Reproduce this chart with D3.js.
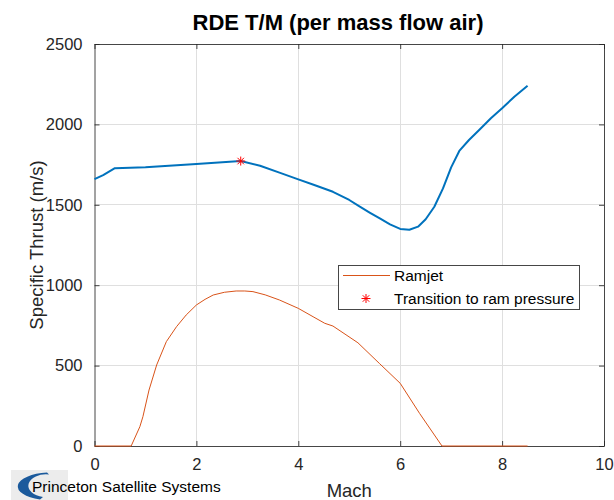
<!DOCTYPE html>
<html>
<head>
<meta charset="utf-8">
<script src="https://cdn.jsdelivr.net/npm/d3@7"></script>
<style>
  html, body { margin: 0; padding: 0; background: #fff; }
  svg { display: block; font-family: "Liberation Sans", Arial, sans-serif; }
</style>
</head>
<body>
<svg id="chart" width="614" height="500"></svg>
<script>
// ---- data ----
const rdeMach   = [0, 0.17, 0.4, 1.0, 2.0, 2.87, 3.25, 3.63, 4.0, 4.3, 4.68, 5.0, 5.2, 5.4, 5.6, 5.8, 6.0, 6.18, 6.35, 6.5, 6.67, 6.84, 7.0, 7.16, 7.35, 7.55, 7.78, 8.0, 8.24, 8.5];
const rdeThrust = [1660, 1685, 1728, 1733, 1753, 1772, 1743, 1700, 1658, 1625, 1581, 1530, 1490, 1452, 1415, 1378, 1350, 1345, 1364, 1410, 1488, 1602, 1733, 1835, 1903, 1965, 2038, 2100, 2172, 2240];
const ramMach   = [0, 0.72, 0.89, 0.95, 1.07, 1.22, 1.41, 1.61, 1.8, 2.0, 2.17, 2.33, 2.55, 2.78, 2.95, 3.11, 3.35, 3.63, 4.0, 4.29, 4.52, 4.68, 5.17, 5.59, 6.0, 6.38, 6.82, 8.5];
const ramThrust = [0, 0, 120, 182, 348, 504, 649, 742, 815, 877, 912, 939, 956, 964, 964, 960, 940, 908, 856, 804, 763, 746, 642, 514, 390, 203, 0, 0];
const transitionMach = [2.87];
const transitionThrust = [1772];
const xTicks = [0, 2, 4, 6, 8, 10];
const yTicks = [0, 500, 1000, 1500, 2000, 2500];
const legendLabels = ["Ramjet", "Transition to ram pressure"];
const titleText = "RDE T/M (per mass flow air)";
const xLabelText = "Mach";
const yLabelText = "Specific Thrust (m/s)";
const logoText = "Princeton Satellite Systems";

// ---- layout ----
const L = 94.5, R = 604, T = 44, B = 446;
const svg = d3.select("#chart");
const x = d3.scaleLinear().domain([0, 10]).range([L, R]);
const y = d3.scaleLinear().domain([0, 2500]).range([B, T]);
const axisColor = "#262626";
const tickFont = "16.5px";

// grid
const grid = svg.append("g");
grid.selectAll("line.gx").data(xTicks.slice(1, -1)).enter().append("line")
  .attr("x1", d => x(d)).attr("x2", d => x(d)).attr("y1", T).attr("y2", B)
  .attr("stroke", "#dfdfdf").attr("stroke-width", 1).attr("shape-rendering", "crispEdges");
grid.selectAll("line.gy").data(yTicks.slice(1, -1)).enter().append("line")
  .attr("y1", d => y(d)).attr("y2", d => y(d)).attr("x1", L).attr("x2", R)
  .attr("stroke", "#dfdfdf").attr("stroke-width", 1).attr("shape-rendering", "crispEdges");

// axes (box with inward ticks on all sides)
function styleAxis(g) {
  g.select(".domain").attr("stroke", axisColor).attr("stroke-opacity", 0.85);
  g.selectAll(".tick line").attr("stroke", axisColor).attr("stroke-opacity", 0.85);
  g.selectAll("text").attr("fill", axisColor).style("font-size", tickFont)
    .style("font-family", "'Liberation Sans', Arial, sans-serif");
}
const tl = 5;
svg.append("g").attr("transform", `translate(0,${B})`)
  .call(d3.axisBottom(x).tickValues(xTicks).tickFormat(d3.format("d")).tickSizeInner(-tl).tickSizeOuter(0).tickPadding(12))
  .call(styleAxis);
svg.append("g").attr("transform", `translate(0,${T})`)
  .call(d3.axisTop(x).tickValues(xTicks).tickFormat("").tickSizeInner(-tl).tickSizeOuter(0))
  .call(styleAxis);
svg.append("g").attr("transform", `translate(${L},0)`)
  .call(d3.axisLeft(y).tickValues(yTicks).tickFormat(d3.format("d")).tickSizeInner(-tl).tickSizeOuter(0).tickPadding(12))
  .call(styleAxis);
svg.append("g").attr("transform", `translate(${R},0)`)
  .call(d3.axisRight(y).tickValues(yTicks).tickFormat("").tickSizeInner(-tl).tickSizeOuter(0))
  .call(styleAxis);

// lines
const line = d3.line().x(d => x(d[0])).y(d => y(d[1]));
svg.append("path").datum(rdeMach.map((m, i) => [m, rdeThrust[i]]))
  .attr("d", line).attr("fill", "none").attr("stroke", "#0072BD").attr("stroke-width", 2)
  .attr("stroke-linejoin", "round");
svg.append("path").datum(ramMach.map((m, i) => [m, ramThrust[i]]))
  .attr("d", line).attr("fill", "none").attr("stroke", "#D95319").attr("stroke-width", 1)
  .attr("stroke-linejoin", "round");

// asterisk marker
function asterisk(g, cx, cy, r) {
  const a = g.append("g").attr("transform", `translate(${cx},${cy})`)
    .attr("stroke", "#ff0000").attr("stroke-width", 1);
  a.append("line").attr("x1", -r).attr("x2", r).attr("y1", 0).attr("y2", 0);
  a.append("line").attr("x1", 0).attr("x2", 0).attr("y1", -r).attr("y2", r);
  const d = r * 0.72;
  a.append("line").attr("x1", -d).attr("x2", d).attr("y1", -d).attr("y2", d);
  a.append("line").attr("x1", -d).attr("x2", d).attr("y1", d).attr("y2", -d);
}
transitionMach.forEach((m, i) => asterisk(svg, x(m), y(transitionThrust[i]), 4.5));

// legend
const lg = svg.append("g");
lg.append("rect").attr("x", 338.5).attr("y", 265.5).attr("width", 241).attr("height", 44)
  .attr("fill", "#fff").attr("stroke", axisColor).attr("stroke-opacity", 0.85).attr("stroke-width", 1);
lg.append("line").attr("x1", 343).attr("x2", 390).attr("y1", 275.5).attr("y2", 275.5)
  .attr("stroke", "#D95319").attr("stroke-width", 1);
asterisk(lg, 366, 298.5, 4.5);
lg.selectAll("text").data(legendLabels).enter().append("text")
  .attr("x", 394).attr("y", (d, i) => 281 + i * 23)
  .attr("fill", "#000").style("font-size", "15.5px").text(d => d);

// title & labels
svg.append("text").attr("x", 338).attr("y", 30).attr("text-anchor", "middle")
  .style("font-size", "22px").style("font-weight", "bold").attr("fill", "#000").text(titleText);
svg.append("text").attr("x", (L + R) / 2).attr("y", 497).attr("text-anchor", "middle")
  .style("font-size", "18.5px").attr("fill", axisColor).text(xLabelText);
svg.append("text").attr("transform", `translate(43,${(T + B) / 2}) rotate(-90)`).attr("text-anchor", "middle")
  .style("font-size", "18.5px").attr("fill", axisColor).text(yLabelText);

// logo
const logo = svg.append("g");
logo.append("rect").attr("x", 11).attr("y", 470).attr("width", 57).attr("height", 30).attr("fill", "#ececec");
logo.append("path")
  .attr("d", "M47,472.5 A34,14 0 0,0 40,499.5 L43,497 A17,11 0 0,1 49,474.5 Z")
  .attr("fill", "#1b5a9c");
logo.append("text").attr("x", 32).attr("y", 492).style("font-size", "15.5px").attr("fill", "#000").text(logoText);
</script>
</body>
</html>
